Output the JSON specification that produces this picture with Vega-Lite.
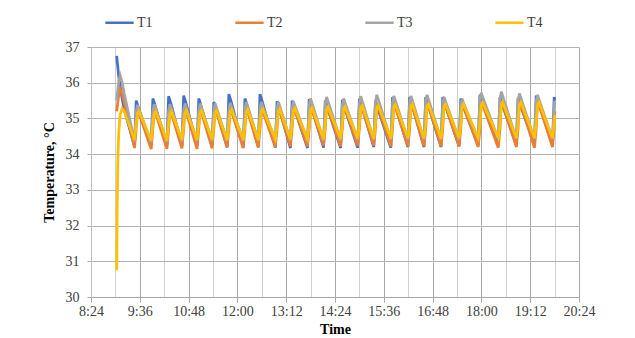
{
  "$schema": "https://vega.github.io/schema/vega-lite/v6.json",
  "width": 488,
  "height": 250,
  "autosize": "none",
  "padding": {"left": 91, "top": 47, "right": 56, "bottom": 41},
  "background": "white",
  "config": {"view": {"stroke": null}, "font": "Liberation Serif"},
  "data": {"values": [
    {"t": 542.0, "T1": 36.75, "T2": 35.2, "T3": 35.5, "T4": 30.75},
    {"t": 542.6, "T1": 36.6, "T2": 35.3, "T3": 35.65, "T4": 32.5},
    {"t": 543.5, "T1": 36.45, "T2": 35.45, "T3": 35.8, "T4": 33.8},
    {"t": 545.0, "T1": 36.15, "T2": 35.65, "T3": 36.05, "T4": 34.6},
    {"t": 547.0, "T1": 35.9, "T2": 35.82, "T3": 36.2, "T4": 35.1},
    {"t": 550.0, "T1": 35.55, "T2": 35.7, "T3": 36.0, "T4": 35.28},
    {"t": 553.0, "T1": 35.25, "T2": 35.45, "T3": 35.7, "T4": 35.2},
    {"t": 568.2, "T1": 34.22, "T2": 34.17, "T3": 34.35, "T4": 34.40},
    {"t": 570.7, "T1": 35.50, "T2": 34.72, "T3": 35.18, "T4": 34.85},
    {"t": 572.7, "T1": 35.38, "T2": 35.25, "T3": 35.38, "T4": 35.14},
    {"t": 574.7, "T1": 35.25, "T2": 35.15, "T3": 35.26, "T4": 35.20},
    {"t": 592.8, "T1": 34.25, "T2": 34.14, "T3": 34.33, "T4": 34.38},
    {"t": 595.3, "T1": 35.56, "T2": 34.72, "T3": 35.20, "T4": 34.85},
    {"t": 597.3, "T1": 35.44, "T2": 35.25, "T3": 35.40, "T4": 35.14},
    {"t": 599.3, "T1": 35.31, "T2": 35.15, "T3": 35.28, "T4": 35.20},
    {"t": 616.0, "T1": 34.24, "T2": 34.15, "T3": 34.34, "T4": 34.38},
    {"t": 618.5, "T1": 35.62, "T2": 34.72, "T3": 35.20, "T4": 34.85},
    {"t": 620.5, "T1": 35.50, "T2": 35.25, "T3": 35.40, "T4": 35.14},
    {"t": 622.5, "T1": 35.37, "T2": 35.15, "T3": 35.28, "T4": 35.20},
    {"t": 638.2, "T1": 34.22, "T2": 34.16, "T3": 34.35, "T4": 34.40},
    {"t": 640.7, "T1": 35.64, "T2": 34.72, "T3": 35.22, "T4": 34.85},
    {"t": 642.7, "T1": 35.52, "T2": 35.27, "T3": 35.42, "T4": 35.16},
    {"t": 644.7, "T1": 35.39, "T2": 35.17, "T3": 35.30, "T4": 35.22},
    {"t": 660.5, "T1": 34.24, "T2": 34.15, "T3": 34.36, "T4": 34.40},
    {"t": 663.0, "T1": 35.56, "T2": 34.72, "T3": 35.22, "T4": 34.85},
    {"t": 665.0, "T1": 35.44, "T2": 35.27, "T3": 35.42, "T4": 35.16},
    {"t": 667.0, "T1": 35.31, "T2": 35.17, "T3": 35.30, "T4": 35.22},
    {"t": 682.7, "T1": 34.26, "T2": 34.16, "T3": 34.36, "T4": 34.41},
    {"t": 685.2, "T1": 35.46, "T2": 34.72, "T3": 35.22, "T4": 34.85},
    {"t": 687.2, "T1": 35.34, "T2": 35.27, "T3": 35.42, "T4": 35.16},
    {"t": 689.2, "T1": 35.21, "T2": 35.17, "T3": 35.30, "T4": 35.22},
    {"t": 704.9, "T1": 34.20, "T2": 34.18, "T3": 34.36, "T4": 34.40},
    {"t": 707.4, "T1": 35.68, "T2": 34.72, "T3": 35.24, "T4": 34.85},
    {"t": 709.4, "T1": 35.56, "T2": 35.29, "T3": 35.44, "T4": 35.18},
    {"t": 711.4, "T1": 35.43, "T2": 35.19, "T3": 35.32, "T4": 35.24},
    {"t": 728.6, "T1": 34.18, "T2": 34.17, "T3": 34.36, "T4": 34.40},
    {"t": 731.1, "T1": 35.56, "T2": 34.72, "T3": 35.26, "T4": 34.85},
    {"t": 733.1, "T1": 35.44, "T2": 35.30, "T3": 35.46, "T4": 35.19},
    {"t": 735.1, "T1": 35.31, "T2": 35.20, "T3": 35.34, "T4": 35.25},
    {"t": 750.8, "T1": 34.20, "T2": 34.18, "T3": 34.37, "T4": 34.40},
    {"t": 753.3, "T1": 35.68, "T2": 34.72, "T3": 35.26, "T4": 34.85},
    {"t": 755.3, "T1": 35.56, "T2": 35.31, "T3": 35.46, "T4": 35.20},
    {"t": 757.3, "T1": 35.43, "T2": 35.21, "T3": 35.34, "T4": 35.26},
    {"t": 776.0, "T1": 34.18, "T2": 34.20, "T3": 34.38, "T4": 34.42},
    {"t": 778.5, "T1": 35.48, "T2": 34.72, "T3": 35.26, "T4": 34.85},
    {"t": 780.5, "T1": 35.36, "T2": 35.31, "T3": 35.46, "T4": 35.20},
    {"t": 782.5, "T1": 35.23, "T2": 35.21, "T3": 35.34, "T4": 35.26},
    {"t": 798.2, "T1": 34.17, "T2": 34.22, "T3": 34.38, "T4": 34.42},
    {"t": 800.7, "T1": 35.50, "T2": 34.72, "T3": 35.28, "T4": 34.85},
    {"t": 802.7, "T1": 35.38, "T2": 35.33, "T3": 35.48, "T4": 35.22},
    {"t": 804.7, "T1": 35.25, "T2": 35.23, "T3": 35.36, "T4": 35.28},
    {"t": 823.4, "T1": 34.17, "T2": 34.22, "T3": 34.38, "T4": 34.43},
    {"t": 825.9, "T1": 35.54, "T2": 34.72, "T3": 35.36, "T4": 34.85},
    {"t": 827.9, "T1": 35.42, "T2": 35.35, "T3": 35.56, "T4": 35.24},
    {"t": 829.9, "T1": 35.29, "T2": 35.25, "T3": 35.44, "T4": 35.30},
    {"t": 847.1, "T1": 34.18, "T2": 34.24, "T3": 34.38, "T4": 34.43},
    {"t": 849.6, "T1": 35.50, "T2": 34.72, "T3": 35.40, "T4": 34.85},
    {"t": 851.6, "T1": 35.38, "T2": 35.37, "T3": 35.60, "T4": 35.26},
    {"t": 853.6, "T1": 35.25, "T2": 35.27, "T3": 35.48, "T4": 35.32},
    {"t": 872.3, "T1": 34.17, "T2": 34.22, "T3": 34.38, "T4": 34.43},
    {"t": 874.8, "T1": 35.52, "T2": 34.72, "T3": 35.36, "T4": 34.85},
    {"t": 876.8, "T1": 35.40, "T2": 35.38, "T3": 35.56, "T4": 35.27},
    {"t": 878.8, "T1": 35.27, "T2": 35.28, "T3": 35.44, "T4": 35.33},
    {"t": 897.5, "T1": 34.18, "T2": 34.23, "T3": 34.40, "T4": 34.44},
    {"t": 900.0, "T1": 35.56, "T2": 34.72, "T3": 35.42, "T4": 34.85},
    {"t": 902.0, "T1": 35.44, "T2": 35.40, "T3": 35.62, "T4": 35.29},
    {"t": 904.0, "T1": 35.31, "T2": 35.30, "T3": 35.50, "T4": 35.35},
    {"t": 921.2, "T1": 34.20, "T2": 34.24, "T3": 34.40, "T4": 34.44},
    {"t": 923.7, "T1": 35.50, "T2": 34.72, "T3": 35.46, "T4": 34.85},
    {"t": 925.7, "T1": 35.38, "T2": 35.42, "T3": 35.66, "T4": 35.31},
    {"t": 927.7, "T1": 35.25, "T2": 35.32, "T3": 35.54, "T4": 35.37},
    {"t": 946.4, "T1": 34.18, "T2": 34.22, "T3": 34.40, "T4": 34.44},
    {"t": 948.9, "T1": 35.60, "T2": 34.72, "T3": 35.43, "T4": 34.85},
    {"t": 950.9, "T1": 35.48, "T2": 35.44, "T3": 35.63, "T4": 35.33},
    {"t": 952.9, "T1": 35.35, "T2": 35.34, "T3": 35.51, "T4": 35.39},
    {"t": 971.6, "T1": 34.20, "T2": 34.22, "T3": 34.40, "T4": 34.45},
    {"t": 974.1, "T1": 35.60, "T2": 34.72, "T3": 35.43, "T4": 34.85},
    {"t": 976.1, "T1": 35.48, "T2": 35.45, "T3": 35.63, "T4": 35.34},
    {"t": 978.1, "T1": 35.35, "T2": 35.35, "T3": 35.51, "T4": 35.40},
    {"t": 995.3, "T1": 34.20, "T2": 34.22, "T3": 34.40, "T4": 34.44},
    {"t": 997.8, "T1": 35.60, "T2": 34.72, "T3": 35.46, "T4": 34.85},
    {"t": 999.8, "T1": 35.48, "T2": 35.45, "T3": 35.66, "T4": 35.34},
    {"t": 1001.8, "T1": 35.35, "T2": 35.35, "T3": 35.54, "T4": 35.40},
    {"t": 1020.5, "T1": 34.20, "T2": 34.22, "T3": 34.40, "T4": 34.44},
    {"t": 1023.0, "T1": 35.60, "T2": 34.72, "T3": 35.40, "T4": 34.85},
    {"t": 1025.0, "T1": 35.48, "T2": 35.45, "T3": 35.60, "T4": 35.34},
    {"t": 1027.0, "T1": 35.35, "T2": 35.35, "T3": 35.48, "T4": 35.40},
    {"t": 1047.1, "T1": 34.22, "T2": 34.22, "T3": 34.40, "T4": 34.45},
    {"t": 1049.6, "T1": 35.56, "T2": 34.72, "T3": 35.35, "T4": 34.85},
    {"t": 1051.6, "T1": 35.44, "T2": 35.45, "T3": 35.55, "T4": 35.34},
    {"t": 1053.6, "T1": 35.31, "T2": 35.35, "T3": 35.43, "T4": 35.40},
    {"t": 1075.3, "T1": 34.25, "T2": 34.20, "T3": 34.40, "T4": 34.45},
    {"t": 1077.8, "T1": 35.66, "T2": 34.72, "T3": 35.52, "T4": 34.85},
    {"t": 1079.8, "T1": 35.54, "T2": 35.49, "T3": 35.72, "T4": 35.38},
    {"t": 1081.8, "T1": 35.41, "T2": 35.39, "T3": 35.60, "T4": 35.44},
    {"t": 1104.9, "T1": 34.25, "T2": 34.18, "T3": 34.42, "T4": 34.46},
    {"t": 1107.4, "T1": 35.60, "T2": 34.72, "T3": 35.55, "T4": 34.85},
    {"t": 1109.4, "T1": 35.48, "T2": 35.50, "T3": 35.75, "T4": 35.39},
    {"t": 1111.4, "T1": 35.35, "T2": 35.40, "T3": 35.63, "T4": 35.45},
    {"t": 1131.6, "T1": 34.26, "T2": 34.20, "T3": 34.42, "T4": 34.45},
    {"t": 1134.1, "T1": 35.58, "T2": 34.72, "T3": 35.50, "T4": 34.85},
    {"t": 1136.1, "T1": 35.46, "T2": 35.50, "T3": 35.70, "T4": 35.39},
    {"t": 1138.1, "T1": 35.33, "T2": 35.40, "T3": 35.58, "T4": 35.45},
    {"t": 1158.3, "T1": 34.28, "T2": 34.18, "T3": 34.42, "T4": 34.45},
    {"t": 1160.8, "T1": 35.64, "T2": 34.72, "T3": 35.46, "T4": 34.85},
    {"t": 1162.8, "T1": 35.52, "T2": 35.50, "T3": 35.66, "T4": 35.39},
    {"t": 1164.8, "T1": 35.39, "T2": 35.40, "T3": 35.54, "T4": 35.45},
    {"t": 1184.9, "T1": 34.28, "T2": 34.20, "T3": 34.42, "T4": 34.45},
    {"t": 1187.4, "T1": 35.60, "T2": 34.72, "T3": 35.30, "T4": 34.85},
    {"t": 1188.4, "T1": 35.52, "T2": 35.20, "T3": 35.50, "T4": 35.10}
  ]},
  "transform": [{"fold": ["T1", "T2", "T3", "T4"], "as": ["series", "temp"]}],
  "mark": {"type": "line", "strokeWidth": 2.75, "interpolate": "linear"},
  "encoding": {
    "x": {
      "field": "t", "type": "quantitative",
      "scale": {"domain": [504, 1224], "nice": false, "zero": false},
      "axis": {
        "title": "Time",
        "values": [504, 540, 576, 612, 648, 684, 720, 756, 792, 828, 864, 900, 936, 972, 1008, 1044, 1080, 1116, 1152, 1188, 1224],
        "labelExpr": "(datum.value-504)%72==0 ? floor(datum.value/60)+':'+(datum.value%60<10?'0':'')+(datum.value%60) : ''",
        "grid": true,
        "gridColor": {"condition": {"test": "(datum.value-504)%72!=0", "value": "#d0d0d0"}, "value": "#a8a8a8"},
        "tickColor": {"condition": {"test": "(datum.value-504)%72!=0", "value": "transparent"}, "value": "#a8a8a8"},
        "tickSize": 5,
        "domainColor": "#a8a8a8",
        "labelFont": "Liberation Serif", "labelFontSize": 14, "labelColor": "#404040",
        "labelPadding": 2, "labelFlush": false, "labelOverlap": false,
        "titleFont": "Liberation Serif", "titleFontSize": 14, "titleFontWeight": "bold", "titleColor": "#000000",
        "titlePadding": 4
      }
    },
    "y": {
      "field": "temp", "type": "quantitative",
      "scale": {"domain": [30, 37], "nice": false, "zero": false},
      "axis": {
        "title": "Temperature, °C",
        "values": [30, 31, 32, 33, 34, 35, 36, 37],
        "grid": true, "gridColor": "#b4b4b4",
        "tickColor": "#a8a8a8", "tickSize": 4,
        "domainColor": "#c0c0c0",
        "labelFont": "Liberation Serif", "labelFontSize": 14, "labelColor": "#404040",
        "labelPadding": 8, "labelFlush": false,
        "titleFont": "Liberation Serif", "titleFontSize": 14, "titleFontWeight": "bold", "titleColor": "#000000",
        "titlePadding": 9
      }
    },
    "color": {
      "field": "series", "type": "nominal",
      "scale": {"domain": ["T1", "T2", "T3", "T4"], "range": ["#4472C4", "#ED7D31", "#A5A5A5", "#FFC000"]},
      "legend": {
        "title": null, "orient": "none", "direction": "horizontal",
        "legendX": 13, "legendY": -40,
        "symbolType": "stroke", "symbolSize": 800, "symbolStrokeWidth": 2.5,
        "labelFont": "Liberation Serif", "labelFontSize": 14, "labelColor": "#404040",
        "labelOffset": 2, "columnPadding": 77
      }
    }
  }
}
